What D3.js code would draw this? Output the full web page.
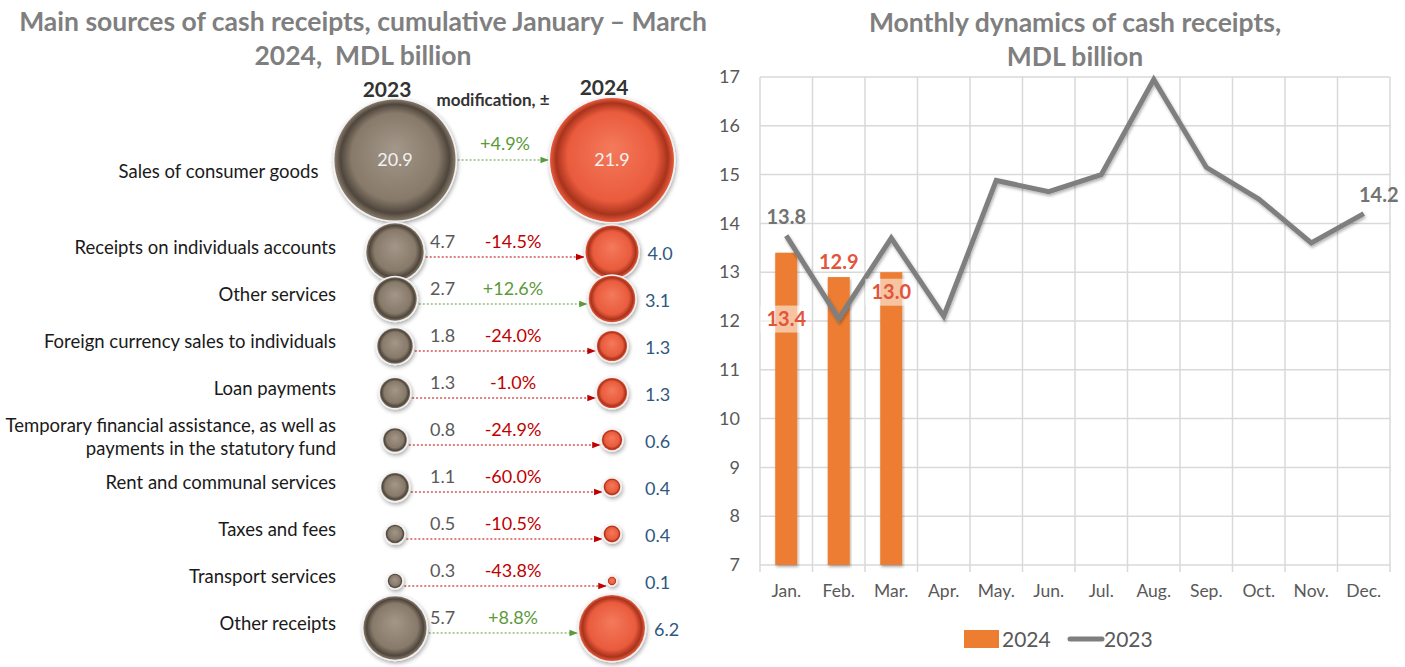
<!DOCTYPE html>
<html><head><meta charset="utf-8">
<script src="https://cdn.jsdelivr.net/npm/d3@7"></script>
<style>
body{margin:0;background:#fff;}
svg{display:block;font-family:Lato,"Open Sans",sans-serif;}
</style></head><body>
<svg id="c" width="1405" height="667"></svg>
<script>
// ---------- data ----------
const categories = ["Sales of consumer goods","Receipts on individuals accounts","Other services","Foreign currency sales to individuals","Loan payments","Temporary financial assistance, as well as|payments in the statutory fund","Rent and communal services","Taxes and fees","Transport services","Other receipts"];
const values2023 = [20.9,4.7,2.7,1.8,1.3,0.8,1.1,0.5,0.3,5.7];
const values2024 = [21.9,4.0,3.1,1.3,1.3,0.6,0.4,0.4,0.1,6.2];
const changes = ["+4.9%","-14.5%","+12.6%","-24.0%","-1.0%","-24.9%","-60.0%","-10.5%","-43.8%","+8.8%"];

const months = ["Jan.","Feb.","Mar.","Apr.","May.","Jun.","Jul.","Aug.","Sep.","Oct.","Nov.","Dec."];
const line2023 = [13.75,12.05,13.7,12.1,14.88,14.65,15.0,16.95,15.15,14.5,13.6,14.2];
const bars2024 = [13.4,12.9,13.0];
const yTicks = [7,8,9,10,11,12,13,14,15,16,17];

const svg = d3.select("#c");
const defs = svg.append("defs");

function bubbleGrad(id, light, base, dark){
  const g = defs.append("radialGradient").attr("id",id).attr("cx","50%").attr("cy","50%").attr("r","50%").attr("fx","50%").attr("fy","40%");
  g.append("stop").attr("offset","0%").attr("stop-color",light);
  g.append("stop").attr("offset","72%").attr("stop-color",base);
  g.append("stop").attr("offset","90%").attr("stop-color",dark);
  g.append("stop").attr("offset","100%").attr("stop-color",base);
}
bubbleGrad("g23","#a3978a","#877a6a","#4f463c");
bubbleGrad("g24","#f47a5c","#ea5b3d","#a8331c");
const sh = defs.append("filter").attr("id","sh").attr("x","-30%").attr("y","-30%").attr("width","160%").attr("height","160%");
sh.append("feDropShadow").attr("dx",1).attr("dy",2).attr("stdDeviation",2).attr("flood-color","#000").attr("flood-opacity",0.35);
const lsh = defs.append("filter").attr("id","lsh").attr("x","-10%").attr("y","-10%").attr("width","120%").attr("height","120%");
lsh.append("feDropShadow").attr("dx",1).attr("dy",2).attr("stdDeviation",1.5).attr("flood-color","#000").attr("flood-opacity",0.3);
function marker(id,color){
  defs.append("marker").attr("id",id).attr("viewBox","0 0 10 10").attr("refX",9).attr("refY",5)
    .attr("markerWidth",7).attr("markerHeight",7).attr("orient","auto")
    .append("path").attr("d","M0,1 L10,5 L0,9 Z").attr("fill",color);
}
marker("mr","#c00000"); marker("mg","#5b9a3a");

// ---------- left: bubbles ----------
const titleColor = "#7f7f7f";
svg.append("text").attr("x",363).attr("y",31).attr("text-anchor","middle").attr("font-size",26.5).attr("font-weight","bold").attr("fill",titleColor)
  .text("Main sources of cash receipts, cumulative January – March");
svg.append("text").attr("x",363).attr("y",65).attr("text-anchor","middle").attr("font-size",26.5).attr("font-weight","bold").attr("fill",titleColor)
  .text("2024,\u00a0 MDL billion");
svg.append("text").attr("x",387).attr("y",97).attr("text-anchor","middle").attr("font-size",21).attr("font-weight","bold").attr("fill","#333").text("2023");
svg.append("text").attr("x",604).attr("y",95).attr("text-anchor","middle").attr("font-size",21).attr("font-weight","bold").attr("fill","#333").text("2024");
svg.append("text").attr("x",493).attr("y",106).attr("text-anchor","middle").attr("font-size",17).attr("font-weight","bold").attr("fill","#333").text("modification, ±");

const rowY = d3.scalePoint().domain(d3.range(1,categories.length)).range([252,628]);
const rowsY = [160].concat(d3.range(1,categories.length).map(i=>rowY(i)));
const rScale = d3.scaleSqrt().domain([0,21.9]).range([0,62]);
const x23 = 395, x24 = 612;

categories.forEach((cat,i)=>{
  const y = rowsY[i];
  const r1 = rScale(values2023[i]), r2 = rScale(values2024[i]);
  const g = svg.append("g");
  const neg = changes[i].startsWith("-");
  const col = neg ? "#c00000" : "#5b9a3a";
  const ay = i===0 ? y : y+5;
  g.append("line").attr("x1",x23+r1+2).attr("x2",x24-r2-2).attr("y1",ay).attr("y2",ay)
    .attr("stroke",col).attr("stroke-width",1.2).attr("stroke-dasharray","2,2").attr("marker-end",`url(#${neg?"mr":"mg"})`);
  [[x23,r1,"g23"],[x24,r2,"g24"]].forEach(([cx,r,gid])=>{
    g.append("circle").attr("cx",cx).attr("cy",y).attr("r",r+1.5).attr("fill","#f2f2f2").attr("filter","url(#sh)");
    g.append("circle").attr("cx",cx).attr("cy",y).attr("r",r).attr("fill",`url(#${gid})`);
  });
  const lines = cat.split("|");
  const lx = i===0 ? x23-r1-16 : 336;
  const t = g.append("text").attr("x",lx).attr("text-anchor","end").attr("font-size",18.5).attr("fill","#1a1a1a");
  if(lines.length===1){
    t.attr("y", i===0 ? y+18 : y+2).text(cat);
  } else {
    lines.forEach((ln,k)=>t.append("tspan").attr("x",lx).attr("y",y-8+k*23).text(ln));
  }
  if(i===0){
    g.append("text").attr("x",x23).attr("y",y+6).attr("text-anchor","middle").attr("font-size",18).attr("fill","#f2f2f2").text(values2023[i].toFixed(1));
    g.append("text").attr("x",x24).attr("y",y+6).attr("text-anchor","middle").attr("font-size",18).attr("fill","#f2f2f2").text(values2024[i].toFixed(1));
    g.append("text").attr("x",505).attr("y",y-10).attr("text-anchor","middle").attr("font-size",18).attr("fill",col).text(changes[i]);
  } else {
    g.append("text").attr("x",430).attr("y",y-4).attr("font-size",18).attr("fill","#595959").text(values2023[i].toFixed(1));
    g.append("text").attr("x",513).attr("y",y-4).attr("text-anchor","middle").attr("font-size",18).attr("fill",col).text(changes[i]);
    g.append("text").attr("x",Math.max(645,x24+r2+9)).attr("y",y+8).attr("font-size",18).attr("fill","#2f5880").text(values2024[i].toFixed(1));
  }
});

// ---------- right: monthly ----------
svg.append("text").attr("x",1075).attr("y",32).attr("text-anchor","middle").attr("font-size",26.5).attr("font-weight","bold").attr("fill",titleColor)
  .text("Monthly dynamics of cash receipts,");
svg.append("text").attr("x",1075).attr("y",66).attr("text-anchor","middle").attr("font-size",26.5).attr("font-weight","bold").attr("fill",titleColor)
  .text("MDL billion");

const x = d3.scaleBand().domain(months).range([760,1390]).padding(0);
const y = d3.scaleLinear().domain([7,17]).range([565,77]);

const grid = svg.append("g");
grid.selectAll("line.h").data(yTicks).join("line").attr("x1",760).attr("x2",1390).attr("y1",d=>y(d)).attr("y2",d=>y(d)).attr("stroke","#d9d9d9").attr("stroke-width",1.5);
const vb = months.map(m=>x(m)).concat([1390]);
grid.selectAll("line.v").data(vb).join("line").attr("x1",d=>d).attr("x2",d=>d).attr("y1",y(17)).attr("y2",y(7)+7).attr("stroke","#d9d9d9").attr("stroke-width",1.5);

const yAxis = svg.append("g").attr("transform","translate(760,0)").call(d3.axisLeft(y).tickValues(yTicks).tickSize(0).tickPadding(20));
yAxis.select(".domain").remove();
yAxis.selectAll("text").attr("font-size",18).attr("fill","#595959").attr("font-family","Lato,sans-serif");
const xAxis = svg.append("g").attr("transform","translate(0,565)").call(d3.axisBottom(x).tickSize(0).tickPadding(20));
xAxis.select(".domain").remove();
xAxis.selectAll("text").attr("font-size",17.5).attr("fill","#595959").attr("font-family","Lato,sans-serif");

const bw = x.bandwidth()*0.42;
svg.append("g").selectAll("rect").data(bars2024).join("rect")
  .attr("x",(d,i)=>x(months[i])+x.bandwidth()/2-bw/2).attr("width",bw)
  .attr("y",d=>y(d)).attr("height",d=>y(7)-y(d)).attr("fill","#ed7d31").attr("filter","url(#lsh)");

const lineGen = d3.line().x((d,i)=>x(months[i])+x.bandwidth()/2).y(d=>y(d));
svg.append("path").datum(line2023).attr("d",lineGen).attr("fill","none").attr("stroke","#7f7f7f").attr("stroke-width",5).attr("stroke-linejoin","miter").attr("filter","url(#lsh)");

svg.append("text").attr("x",x("Jan.")+x.bandwidth()/2).attr("y",y(line2023[0])-12).attr("text-anchor","middle").attr("font-size",20).attr("font-weight","bold").attr("fill","#737373").text("13.8");
svg.append("text").attr("x",x("Dec.")+x.bandwidth()/2+15).attr("y",y(line2023[11])-12).attr("text-anchor","middle").attr("font-size",20).attr("font-weight","bold").attr("fill","#737373").text(line2023[11].toFixed(1));

const barLblColor = "#e2553a";
[[0,12.05,true],[1,null,false],[2,12.6,true]].forEach(([i,pos,boxed])=>{
  const cx = x(months[i])+x.bandwidth()/2;
  let ty = pos===null ? y(bars2024[i])-8 : y(pos)+7;
  if(boxed){
    svg.append("rect").attr("x",cx-bw/2-15).attr("y",ty-20).attr("width",bw+22).attr("height",27).attr("fill","#fff").attr("opacity",0.55);
  }
  svg.append("text").attr("x",cx).attr("y",ty).attr("text-anchor","middle").attr("font-size",20).attr("font-weight","bold").attr("fill",barLblColor).text(bars2024[i].toFixed(1));
});

const lg = svg.append("g");
lg.append("rect").attr("x",964).attr("y",630).attr("width",35).attr("height",18).attr("fill","#ed7d31");
lg.append("text").attr("x",1002).attr("y",647).attr("font-size",21).attr("fill","#595959").text("2024");
lg.append("line").attr("x1",1070).attr("x2",1102).attr("y1",639).attr("y2",639).attr("stroke","#7f7f7f").attr("stroke-width",5).attr("stroke-linecap","round");
lg.append("text").attr("x",1104).attr("y",647).attr("font-size",21).attr("fill","#595959").text("2023");
</script></body></html>
